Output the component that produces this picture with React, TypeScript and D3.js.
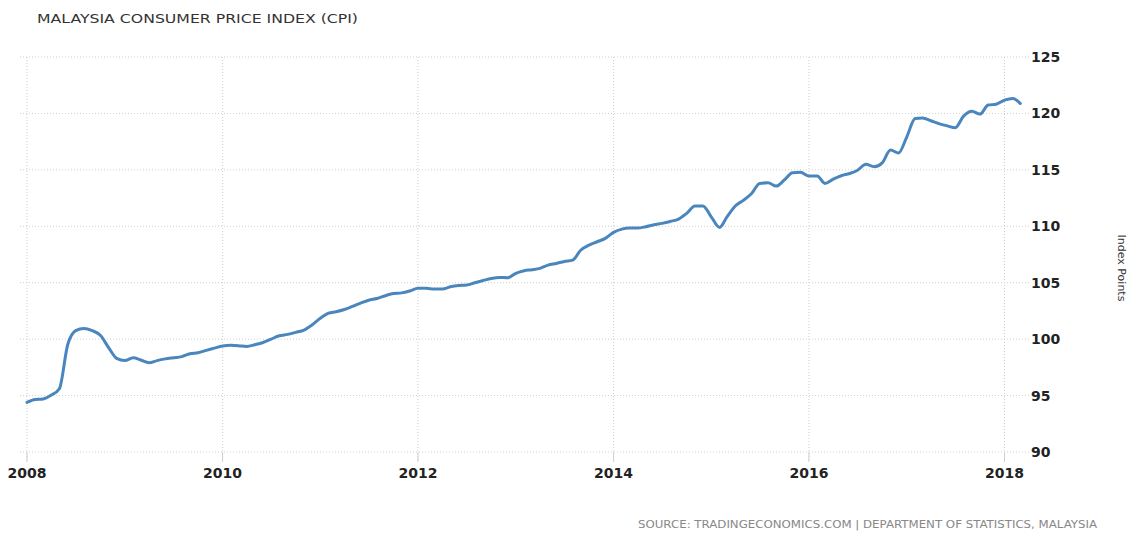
import React from "react";
import * as d3 from "d3";

const TITLE = "MALAYSIA CONSUMER PRICE INDEX (CPI)";
const SOURCE = "SOURCE: TRADINGECONOMICS.COM | DEPARTMENT OF STATISTICS, MALAYSIA";
const Y_LABEL = "Index Points";
const START_MONTH = new Date(2008, 0, 1);
const X_TICK_YEARS = [2008, 2010, 2012, 2014, 2016, 2018];
const Y_TICKS = [90, 95, 100, 105, 110, 115, 120, 125];
const CPI_VALUES = [
  94.4, 94.65, 94.7, 95.05, 95.6, 99.5, 100.75, 100.95, 100.75, 100.35, 99.25, 98.3,
  98.1, 98.35, 98.15, 97.9, 98.1, 98.25, 98.35, 98.45, 98.7, 98.8, 99.0, 99.2,
  99.4, 99.45, 99.42, 99.35, 99.5, 99.7, 100.0, 100.3, 100.42, 100.6, 100.8, 101.25,
  101.85, 102.3, 102.43, 102.63, 102.9, 103.2, 103.45, 103.6, 103.85, 104.05, 104.1, 104.26,
  104.5, 104.5, 104.44, 104.44, 104.64, 104.76, 104.8, 105.0, 105.2, 105.38, 105.47, 105.44,
  105.83, 106.06, 106.15, 106.27, 106.56, 106.71, 106.88, 107.0, 107.9, 108.33, 108.63, 108.93,
  109.46, 109.75, 109.84, 109.84, 109.96, 110.14, 110.26, 110.43, 110.64, 111.14, 111.8, 111.8,
  110.84, 109.9, 110.84, 111.8, 112.3, 112.9, 113.8, 113.85, 113.56, 114.1, 114.75, 114.78,
  114.45, 114.45, 113.8, 114.18, 114.48, 114.68, 114.97, 115.5, 115.27, 115.62, 116.75, 116.5,
  117.93, 119.55, 119.6, 119.35, 119.1, 118.9, 118.73, 119.76, 120.2, 119.94, 120.74, 120.82,
  121.18, 121.33, 120.88,
];

export default function App() {
  const W = 1133;
  const H = 533;
  const x = d3
    .scaleTime()
    .domain([new Date(2008, 0, 1), new Date(2018, 0, 1)])
    .range([27, 1004.5]);
  const y = d3.scaleLinear().domain([90, 125]).range([452, 57]);
  const data = CPI_VALUES.map((v, i) => ({ date: d3.timeMonth.offset(START_MONTH, i), v }));
  const line = d3
    .line<{ date: Date; v: number }>()
    .x((d) => x(d.date))
    .y((d) => y(d.v))
    .curve(d3.curveMonotoneX);
  const font = "Tahoma, 'DejaVu Sans', Verdana, sans-serif";
  const grid = "#cfcfcf";
  return (
    <svg
      width={W}
      height={H}
      style={{ position: "absolute", left: 0, top: 0, background: "#fff" }}
      fontFamily={font}
    >
      <text x={37} y={23} fontSize={13} fill="#333" textLength={321} lengthAdjust="spacingAndGlyphs">
        {TITLE}
      </text>
      {Y_TICKS.map((t) => (
        <g key={t}>
          <line x1={20} x2={1030} y1={y(t)} y2={y(t)} stroke={grid} strokeDasharray="1,2" />
          <text x={1031} y={y(t) + 5} fontSize={14} fill="#222" fontWeight="bold">
            {t}
          </text>
        </g>
      ))}
      {X_TICK_YEARS.map((yr) => {
        const xx = x(new Date(yr, 0, 1));
        return (
          <g key={yr}>
            <line x1={xx} x2={xx} y1={57} y2={462} stroke={grid} strokeDasharray="1,2" />
            <line x1={xx} x2={xx} y1={452} y2={462} stroke={grid} />
            <text x={xx} y={478} fontSize={14} fill="#222" textAnchor="middle" fontWeight="bold">
              {yr}
            </text>
          </g>
        );
      })}
      <path d={line(data) || ""} fill="none" stroke="#4a86bd" strokeWidth={3} strokeLinejoin="round" strokeLinecap="round" />
      <text
        transform={`translate(1118,268) rotate(90)`}
        fontSize={11}
        fill="#333"
        textAnchor="middle"
      >
        {Y_LABEL}
      </text>
      <text x={1097} y={528} fontSize={11} fill="#888" textAnchor="end" textLength={459} lengthAdjust="spacingAndGlyphs">
        {SOURCE}
      </text>
    </svg>
  );
}
